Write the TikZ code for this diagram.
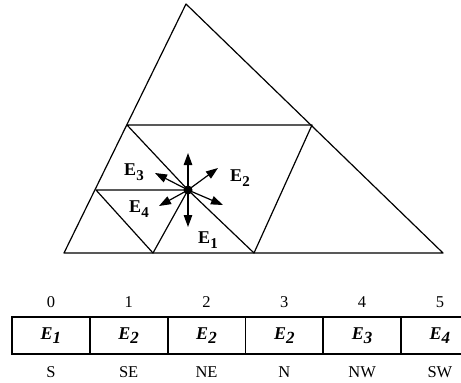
\documentclass[tikz,border=0pt]{standalone}
\usepackage{fontspec}
\setmainfont{Liberation Serif}
\usetikzlibrary{positioning, arrows.meta}

\begin{document}
\begin{tikzpicture}[
    x=1pt, y=-1pt,
    >={Triangle[length=12pt, width=8.5pt]},
    edge/.style={line width=1.2pt, line join=round},
    dirarr/.style={->, line width=1.2pt},
    lbl/.style={font=\fontsize{18}{18}\selectfont\bfseries, inner sep=0pt},
    cell/.style={rectangle, draw, line width=1.8pt, minimum width=77.8pt, minimum height=37pt, font=\fontsize{18}{18}\selectfont\bfseries\itshape, anchor=center},
    idx/.style={font=\fontsize{16.5}{16.5}\selectfont, inner sep=0pt}
]
\useasboundingbox (0,0) rectangle (461,383);
\clip (0,0) rectangle (461,383);

% mesh corners
\coordinate (A) at (186,4);
\coordinate (B) at (64,253);
\coordinate (C) at (443,253);
\coordinate (L1) at (127,125);
\coordinate (R1) at (312,125);
\coordinate (L2) at (96,190);
\coordinate (D1) at (153,253);
\coordinate (D2) at (254,253);
\node[circle, fill, inner sep=0pt, minimum size=9pt] (P) at (188,190) {};

% triangles
\draw[edge] (A) -- (B) -- (C) -- cycle;
\draw[edge] (L1) -- (R1) -- (D2) -- (P.center) -- (L1);
\draw[edge] (L2) -- (P.center) -- (D1) -- (L2);

% neighbour directions
\coordinate (tN) at (188,153);
\coordinate (tS) at (188,227);
\coordinate (tNE) at (218,168);
\coordinate (tNW) at (155,173);
\coordinate (tSE) at (223,205);
\coordinate (tSW) at (159,206);
\foreach \d in {N,S,NE,NW,SE,SW} {
    \draw[dirarr] (P.center) -- (t\d);
}

\node[lbl] (e3) at (134,172) {E\raisebox{-4.5pt}{\fontsize{15}{15}\selectfont 3}};
\node[lbl] (e2) at (240,178) {E\raisebox{-4.5pt}{\fontsize{15}{15}\selectfont 2}};
\node[lbl] (e4) at (139,209) {E\raisebox{-4.5pt}{\fontsize{15}{15}\selectfont 4}};
\node[lbl] (e1) at (208,240) {E\raisebox{-4.5pt}{\fontsize{15}{15}\selectfont 1}};

% lookup table
\foreach \sub/\dirn [count=\i from 0] in {1/S, 2/SE, 2/NE, 2/N, 3/NW, 4/SW} {
    \node[cell] (cell\i) at (50.9 + \i*77.8, 335.5) {E\raisebox{-3.5pt}{\fontsize{17}{17}\selectfont\sub}};
    \node[idx] (num\i) at (50.9 + \i*77.8, 302) {\i};
    \node[idx] (dir\i) at (50.9 + \i*77.8, 372) {\dirn};
}

\end{tikzpicture}
\end{document}
